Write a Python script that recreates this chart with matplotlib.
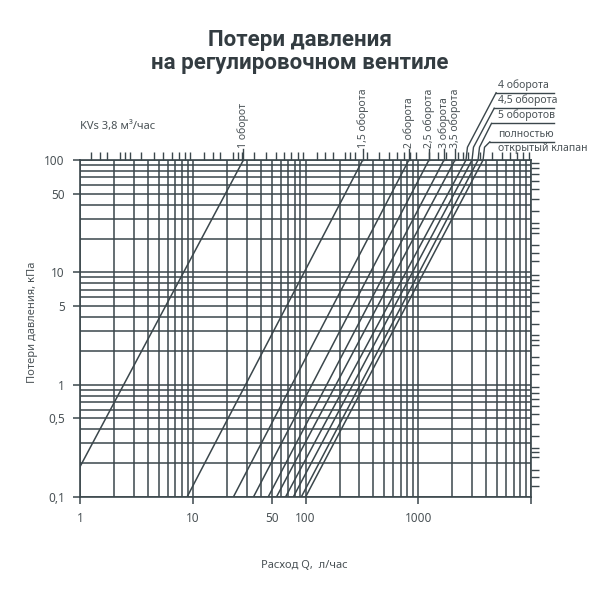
import numpy as np
import matplotlib.pyplot as plt
from matplotlib.ticker import FixedLocator, NullFormatter, LogLocator

plt.rcParams['font.family'] = ['Noto Sans', 'DejaVu Sans']

# Кривые: Q при 100 кПа и при 0,1 кПа
turns = ["1 оборот", "1,5 оборота", "2 оборота", "2,5 оборота", "3 оборота",
         "3,5 оборота", "4 оборота", "4,5 оборота", "5 оборотов",
         "полностью\nоткрытый клапан"]
q_at_100 = [28.1, 321, 823, 1240, 1686, 2110, 2643, 2990, 3380, 3745]
q_at_01 = [0.72, 8.9, 22.9, 34.5, 46.6, 55.2, 66.4, 77.8, 91.6, 100]

x_ticks = [1, 10, 50, 100, 1000, 10000]
x_labels = ["1", "10", "50", "100", "1000", ""]
y_ticks = [0.1, 0.5, 1, 5, 10, 50, 100]
y_labels = ["0,1", "0,5", "1", "5", "10", "50", "100"]

line_c = "#3b474c"
text_c = "#4a5256"

fig = plt.figure(figsize=(6, 6), dpi=100)
ax = fig.add_axes([0.1333, 0.1717, 0.752, 0.5616])
ax.set_xscale("log")
ax.set_yscale("log")
ax.set_xlim(1, 10000)
ax.set_ylim(0.1, 100)

ax.xaxis.set_major_locator(FixedLocator(x_ticks))
ax.xaxis.set_minor_locator(LogLocator(base=10, subs=np.arange(2, 10)))
ax.xaxis.set_minor_formatter(NullFormatter())
ax.set_xticklabels(x_labels)
ax.yaxis.set_major_locator(FixedLocator(y_ticks))
ax.yaxis.set_minor_locator(LogLocator(base=10, subs=np.arange(2, 10)))
ax.yaxis.set_minor_formatter(NullFormatter())
ax.set_yticklabels(y_labels)

ax.grid(True, which="both", color=line_c, lw=1.1)
ax.tick_params(which="major", direction="out", length=5, width=1.1, color=line_c,
               labelsize=8.5, labelcolor=text_c, pad=6)
ax.tick_params(which="minor", length=0)
for s in ax.spines.values():
    s.set_color(line_c)
    s.set_linewidth(1.2)

# засечки сверху и справа
half = np.array([1.25, 1.5, 1.75, 2.25, 2.5, 2.75, 3.5, 4.5, 5.5, 6.5, 7.5, 8.5, 9.5])
top = ax.twiny()
top.set_xscale("log")
top.set_xlim(ax.get_xlim())
top.xaxis.set_major_locator(FixedLocator(np.concatenate([half * 10 ** k for k in range(4)])))
top.xaxis.set_minor_locator(FixedLocator([]))
top.set_xticklabels([])
top.tick_params(direction="out", length=6, width=1, color=line_c)

right = ax.twinx()
right.set_yscale("log")
right.set_ylim(ax.get_ylim())
right.yaxis.set_major_locator(FixedLocator(np.concatenate([half * 10.0 ** k for k in range(-1, 2)])))
right.yaxis.set_minor_locator(FixedLocator([]))
right.set_yticklabels([])
right.tick_params(direction="out", length=6, width=1, color=line_c)
for t in (top, right):
    for s in t.spines.values():
        s.set_visible(False)

# кривые потерь давления
for q1, q2 in zip(q_at_01, q_at_100):
    ax.plot([q1, q2], [0.1, 100], color=line_c, lw=1.1)

# подписи кривых (вертикальные)
for name, q in zip(turns[:6], q_at_100[:6]):
    ax.plot([q, q], [100, 125], color=line_c, lw=1, clip_on=False)
    ax.text(q, 128, name, rotation=90, ha="center", va="bottom", fontsize=7.5,
            color=text_c, clip_on=False)

# подписи кривых (выноски справа)
label_y = [397, 289, 212, 145]
leader_x = [4886, 4700, 4450, 4300]
for name, q, yy, lx in zip(turns[6:], q_at_100[6:], label_y, leader_x):
    ax.plot([q, q * 1.03, lx], [100, 130, yy], color=line_c, lw=1, clip_on=False)
    ax.plot([lx, 16000], [yy, yy], color=line_c, lw=1, clip_on=False)
    if "\n" in name:
        a, b = name.split("\n")
        ax.text(5090, yy * 1.04, a, ha="left", va="bottom", fontsize=7.5, color=text_c, clip_on=False)
        ax.text(5090, yy * 0.97, b, ha="left", va="top", fontsize=7.5, color=text_c, clip_on=False)
    else:
        ax.text(5090, yy * 1.04, name, ha="left", va="bottom", fontsize=7.5, color=text_c, clip_on=False)

title_font = ['Roboto', 'DejaVu Sans']
fig.text(0.1333, 0.79, "KVs 3,8 м³/час", fontsize=8, color=text_c, ha="left", va="center")
fig.text(0.5, 0.933, "Потери давления", fontsize=16, fontweight="bold", color="#333c41",
         ha="center", va="center", family=title_font)
fig.text(0.5, 0.895, "на регулировочном вентиле", fontsize=16, fontweight="bold", color="#333c41",
         ha="center", va="center", family=title_font)
fig.text(0.508, 0.058, "Расход Q,  л/час", fontsize=8, color=text_c, ha="center", va="center")
fig.text(0.055, 0.463, "Потери давления, кПа", fontsize=8, color=text_c, ha="center", va="center", rotation=90)

fig.savefig("out.png", dpi=100)
